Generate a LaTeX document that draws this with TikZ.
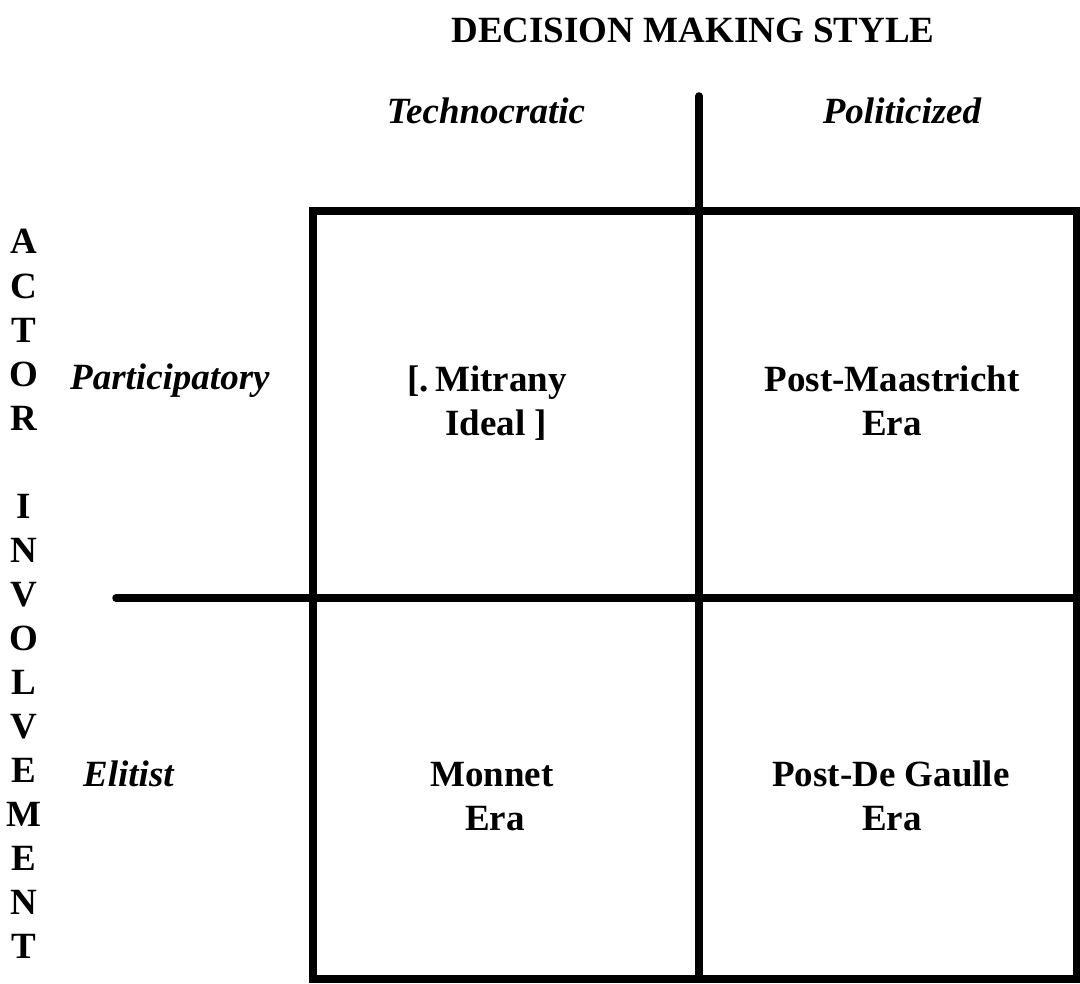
\documentclass[tikz,border=0pt]{standalone}
\usepackage{fontspec}
\setmainfont{Liberation Serif}
\begin{document}
\begin{tikzpicture}[x=1pt,y=-1pt,
  grid/.style={line width=7.5pt,black},
  lbl/.style={font=\fontsize{37}{44}\selectfont\bfseries,inner sep=0pt,anchor=base},
  ilbl/.style={font=\fontsize{37}{44}\selectfont\bfseries\itshape,inner sep=0pt,anchor=base}]
\useasboundingbox (0,0) rectangle (1080,984);
% coordinates
\coordinate (tl) at (313,211);
\coordinate (tr) at (1077,211);
\coordinate (bl) at (313,979);
\coordinate (br) at (1077,979);
\coordinate (vtop) at (699,96);
\coordinate (vbot) at (699,979);
\coordinate (hleft) at (116,598);
\coordinate (hright) at (1077,598);
% grid
\draw[grid,line join=miter] (tl) -- (tr) -- (br) -- (bl) -- cycle;
\draw[grid,line cap=round] (vtop) -- (vbot);
\draw[grid,line cap=round] (hleft) -- (hright);
% title and column labels
\node[lbl] (title) at (693,43) {DECISION MAKING STYLE};
\node[ilbl] (techno) at (486,124) {Technocratic};
\node[ilbl] (polit) at (902,124) {Politicized};
% vertical axis letters
\foreach \ch [count=\i from 0] in {A,C,T,O,R,{},I,N,V,O,L,V,E,M,E,N,T}{
  \node[lbl] (ax\i) at (24,{254+44.06*\i}) {\ch};
}
% row labels
\node[ilbl,anchor=base west] (partic) at (70,390) {Participatory};
\node[ilbl,anchor=base west] (elit) at (83,786) {Elitist};
% cells
\node[lbl] (mit1) at (487,392) {[.\,Mitrany};
\node[lbl] (mit2) at (496,436) {Ideal ]};
\node[lbl] (pm1) at (892,392) {Post-Maastricht};
\node[lbl] (pm2) at (892,436) {Era};
\node[lbl] (mo1) at (492,786) {Monnet};
\node[lbl] (mo2) at (495,830) {Era};
\node[lbl] (dg1) at (891,786) {Post-De Gaulle};
\node[lbl] (dg2) at (892,830) {Era};
\end{tikzpicture}
\end{document}
